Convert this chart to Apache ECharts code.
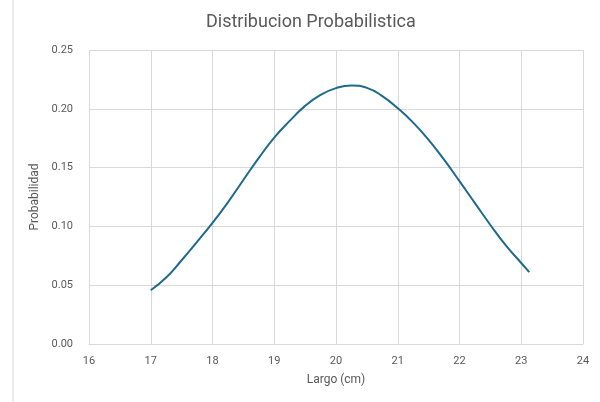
<!DOCTYPE html>
<html>
	<head>
		<meta charset="UTF-8">
		<title>Distribucion Probabilistica</title>
		<script src="https://cdn.jsdelivr.net/npm/echarts@6/dist/echarts.min.js"></script>
		<style>
			body { margin: 0; background: #fff; }
			#chart { width: 600px; height: 402px; }
		</style>
	</head>
	<body>
		<div id="chart"></div>
		<script>
			// valores
			var largo = [17, 17.25, 17.5, 17.75, 18, 18.25, 18.5, 18.75, 19, 19.25, 19.5, 19.75,
				20, 20.25, 20.5, 20.75, 21, 21.25, 21.5, 21.75, 22, 22.25, 22.5, 22.75, 23, 23.13];
			var probabilidad = [0.0457, 0.0565, 0.0712, 0.0868, 0.103, 0.1205, 0.1395, 0.1582, 0.1755, 0.1897, 0.2025, 0.2118,
				0.2176, 0.2198, 0.2178, 0.2108, 0.2005, 0.1882, 0.1735, 0.1567, 0.1385, 0.1198, 0.1012, 0.0838, 0.0689, 0.0611];

			var puntos = largo.map(function (x, i) { return [x, probabilidad[i]]; });

			var chart = echarts.init(document.getElementById('chart'));
			chart.setOption({
				animation: false,
				textStyle: { fontFamily: 'Roboto' },
				title: {
					text: 'Distribucion Probabilistica',
					left: 201,
					top: 8,
					textStyle: { fontSize: 18, fontWeight: 'normal', color: '#595959', fontFamily: 'Roboto' }
				},
				grid: { left: 89, right: 17, top: 50, bottom: 58 },
				xAxis: {
					type: 'value',
					min: 16, max: 24, interval: 1,
					name: 'Largo (cm)',
					nameLocation: 'middle',
					nameGap: 30,
					nameTextStyle: { fontSize: 12, color: '#595959' },
					axisLine: { lineStyle: { color: '#d9d9d9' } },
					axisTick: { show: false },
					axisLabel: { fontSize: 11, color: '#595959', margin: 12 },
					splitLine: { lineStyle: { color: '#d9d9d9' } }
				},
				yAxis: {
					type: 'value',
					min: 0, max: 0.25, interval: 0.05,
					name: 'Probabilidad',
					nameLocation: 'middle',
					nameGap: 42,
					nameTextStyle: { fontSize: 12, color: '#595959' },
					axisLine: { show: false },
					axisTick: { show: false },
					axisLabel: { fontSize: 11, color: '#595959', margin: 16, formatter: function (v) { return v.toFixed(2); } },
					splitLine: { lineStyle: { color: '#d9d9d9' } }
				},
				graphic: [{
					type: 'line',
					shape: { x1: 13, y1: 0, x2: 13, y2: 402 },
					style: { stroke: '#d9d9d9', lineWidth: 1 }
				}],
				series: [{
					type: 'line',
					data: puntos,
					smooth: true,
					showSymbol: false,
					lineStyle: { color: '#1d6a8c', width: 2 }
				}]
			});
		</script>
	</body>
</html>
